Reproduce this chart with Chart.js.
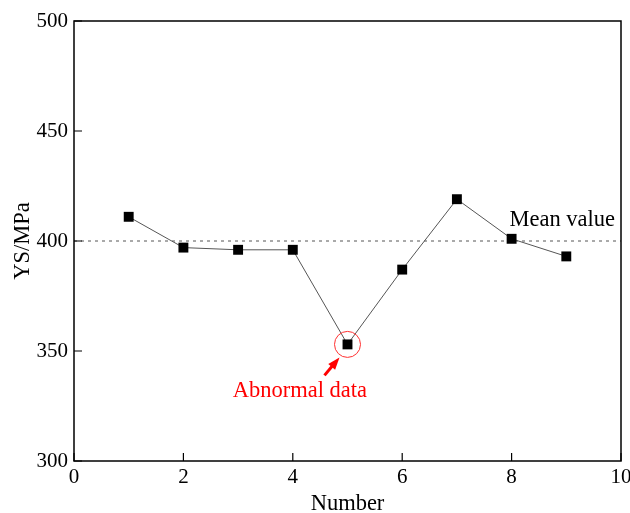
<!DOCTYPE html>
<html>
<head>
    <script src="https://cdn.jsdelivr.net/npm/chart.js"></script>
    <style>
        body { margin: 0; background: #fff; }
        #wrap { width: 630px; height: 513px; }
    </style>
</head>
<body>
<div id="wrap"><canvas id="ysChart"></canvas></div>

<script>
    const numbers = [1, 2, 3, 4, 5, 6, 7, 8, 9];
    const ysValues = [411, 397, 396, 396, 353, 387, 419, 401, 393];
    const meanValue = 400;
    const xTicks = [0, 2, 4, 6, 8, 10];
    const yTicks = [300, 350, 400, 450, 500];
    const abnormalIndex = 4;

    const serif = '"Liberation Serif", "Times New Roman", serif';

    // frame, inward ticks and the two notes
    const extras = {
        id: 'extras',
        afterDatasetsDraw(chart) {
            const { ctx, chartArea: a, scales: { x, y } } = chart;
            ctx.save();
            ctx.strokeStyle = '#000';
            ctx.lineWidth = 1.5;
            ctx.strokeRect(a.left, a.top, a.right - a.left, a.bottom - a.top);
            ctx.lineWidth = 1.2;
            ctx.beginPath();
            xTicks.forEach(v => {
                const px = x.getPixelForValue(v);
                ctx.moveTo(px, a.bottom);
                ctx.lineTo(px, a.bottom - 8);
            });
            yTicks.forEach(v => {
                const py = y.getPixelForValue(v);
                ctx.moveTo(a.left, py);
                ctx.lineTo(a.left + 8, py);
            });
            ctx.stroke();

            ctx.font = '22.5px ' + serif;
            ctx.fillStyle = '#000';
            ctx.textBaseline = 'alphabetic';
            ctx.fillText('Mean value', x.getPixelForValue(7.96), y.getPixelForValue(407));

            // abnormal point
            const cx = x.getPixelForValue(numbers[abnormalIndex]);
            const cy = y.getPixelForValue(ysValues[abnormalIndex]);
            ctx.strokeStyle = '#ff3030';
            ctx.lineWidth = 1;
            ctx.beginPath();
            ctx.arc(cx, cy, 13, 0, Math.PI * 2);
            ctx.stroke();

            ctx.strokeStyle = '#ff0000';
            ctx.fillStyle = '#ff0000';
            ctx.lineWidth = 3;
            const sx = cx - 23, sy = cy + 31, ex = cx - 8, ey = cy + 13;
            const ang = Math.atan2(ey - sy, ex - sx);
            ctx.beginPath();
            ctx.moveTo(sx, sy);
            ctx.lineTo(ex - 9 * Math.cos(ang), ey - 9 * Math.sin(ang));
            ctx.stroke();
            ctx.beginPath();
            ctx.moveTo(ex, ey);
            ctx.lineTo(ex - 13 * Math.cos(ang - 0.35), ey - 13 * Math.sin(ang - 0.35));
            ctx.lineTo(ex - 13 * Math.cos(ang + 0.35), ey - 13 * Math.sin(ang + 0.35));
            ctx.closePath();
            ctx.fill();

            ctx.font = '22.5px ' + serif;
            ctx.textAlign = 'center';
            ctx.fillText('Abnormal data', x.getPixelForValue(4.13), y.getPixelForValue(329));
            ctx.restore();
        }
    };

    new Chart(document.getElementById('ysChart'), {
        type: 'scatter',
        data: {
            datasets: [{
                data: numbers.map((n, i) => ({ x: n, y: ysValues[i] })),
                showLine: true,
                borderColor: '#555',
                borderWidth: 1,
                pointStyle: 'rect',
                pointRadius: 7,
                pointHoverRadius: 7,
                pointBackgroundColor: '#000',
                pointBorderColor: '#000',
                pointBorderWidth: 0
            }, {
                data: [{ x: 0, y: meanValue }, { x: 10, y: meanValue }],
                showLine: true,
                borderColor: '#555',
                borderWidth: 1,
                borderDash: [3, 4],
                pointRadius: 0
            }]
        },
        options: {
            responsive: true,
            maintainAspectRatio: false,
            animation: false,
            layout: { padding: { top: 21, right: 9, left: 0, bottom: 0 } },
            plugins: { legend: { display: false }, tooltip: { enabled: false } },
            scales: {
                x: {
                    type: 'linear',
                    min: 0, max: 10,
                    afterBuildTicks: s => { s.ticks = xTicks.map(v => ({ value: v })); },
                    afterFit: s => { s.height = 52; s.paddingRight = 0; s.paddingLeft = 0; },
                    grid: { display: false, drawTicks: false },
                    border: { display: false },
                    ticks: { color: '#000', padding: 4, maxRotation: 0, font: { family: serif, size: 21 } },
                    title: { display: true, text: 'Number', color: '#000', padding: { top: 0, bottom: -5 }, font: { family: serif, size: 22.5 } }
                },
                y: {
                    min: 300, max: 500,
                    afterBuildTicks: s => { s.ticks = yTicks.map(v => ({ value: v })); },
                    afterFit: s => { s.width = 74; s.paddingTop = 0; s.paddingBottom = 0; },
                    grid: { display: false, drawTicks: false },
                    border: { display: false },
                    ticks: { color: '#000', padding: 6, font: { family: serif, size: 21 } },
                    title: { display: true, text: 'YS/MPa', color: '#000', padding: { top: 10, bottom: 0 }, font: { family: serif, size: 22.5 } }
                }
            }
        },
        plugins: [extras]
    });
</script>
</body>
</html>
